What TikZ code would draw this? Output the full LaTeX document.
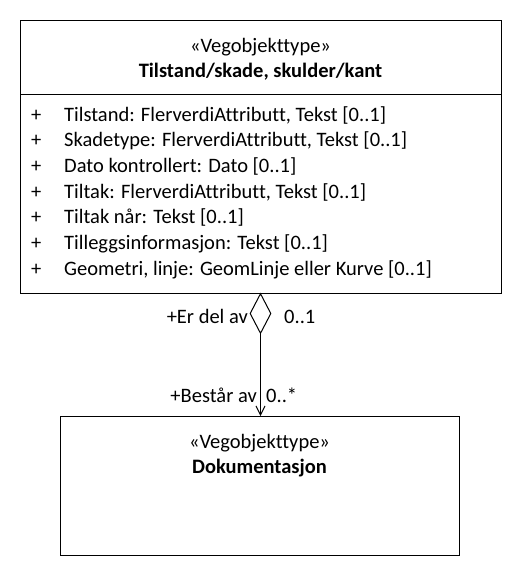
\documentclass[tikz,border=0pt]{standalone}
\usepackage{fontspec}
\setmainfont{Carlito}[Ligatures={NoCommon}]
\usetikzlibrary{shapes.geometric,arrows.meta}
\begin{document}
\begin{tikzpicture}[x=1pt,y=-1pt,
  box/.style={draw,line width=1pt,inner sep=0pt,anchor=north west},
  txt/.style={inner sep=0pt,font=\fontsize{20.5}{24}\selectfont},
  attr/.style={txt,anchor=base west},
  lbl/.style={txt,anchor=base}]
\useasboundingbox (0,0) rectangle (522,576);
% top class
\node[box,minimum width=481pt,minimum height=273pt] (top) at (20,20) {};
\draw[line width=1pt] (20,94) -- (501,94);
\node[lbl] (st1) at (260.5,52) {«Vegobjekttype»};
\node[lbl,font=\fontsize{20.5}{24}\selectfont\bfseries] (n1) at (260.5,77) {Tilstand/skade, skulder/kant};
\foreach \t [count=\i from 0] in {%
  {Tilstand: FlerverdiAttributt, Tekst [0..1]},
  {Skadetype: FlerverdiAttributt, Tekst [0..1]},
  {Dato kontrollert: Dato [0..1]},
  {Tiltak: FlerverdiAttributt, Tekst [0..1]},
  {Tiltak når: Tekst [0..1]},
  {Tilleggsinformasjon: Tekst [0..1]},
  {Geometri, linje: GeomLinje eller Kurve [0..1]}}{
  \node[attr] (p\i) at (31,121+25.7*\i) {+};
  \node[attr] (a\i) at (64,121+25.7*\i) {\t};
}
% bottom class
\node[box,minimum width=399pt,minimum height=139pt] (bot) at (60,416) {};
\node[lbl] (st2) at (259.5,448) {«Vegobjekttype»};
\node[lbl,font=\fontsize{20.5}{24}\selectfont\bfseries] (n2) at (259.5,473) {Dokumentasjon};
% aggregation
\node[diamond,draw,line width=1pt,inner sep=0pt,minimum width=21pt,minimum height=40pt,anchor=north,fill=white] (dia) at (260.5,293) {};
\draw[line width=1pt,-{Straight Barb[length=9pt,width=9pt]}] (dia.south) -- (dia.south |- bot.north);
\node[txt,anchor=base east] (r1) at (248,323) {+Er del av};
\node[txt,anchor=base west] (m1) at (284,323) {0..1};
\node[txt,anchor=base east] (r2) at (257,402) {+Består av};
\node[txt,anchor=base west] (m2) at (266,402) {0..*};
\end{tikzpicture}
\end{document}
